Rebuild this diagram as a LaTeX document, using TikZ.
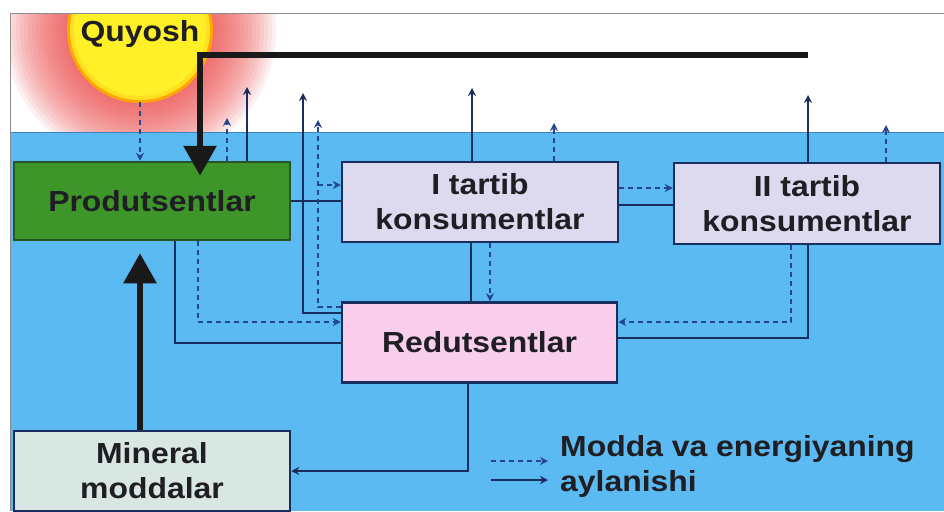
\documentclass[tikz,border=0pt]{standalone}
\usepackage{fontspec}
\setmainfont{Liberation Sans}[FakeStretch=1.1]
\usetikzlibrary{arrows.meta,calc}
\definecolor{water}{RGB}{92,186,242}
\definecolor{waterline}{RGB}{60,130,190}
\definecolor{prodc}{RGB}{62,150,42}
\definecolor{prodb}{RGB}{40,85,40}
\definecolor{consc}{RGB}{221,218,240}
\definecolor{redc}{RGB}{248,206,236}
\definecolor{minc}{RGB}{216,231,226}
\definecolor{navy}{RGB}{25,45,95}
\definecolor{dashc}{RGB}{35,70,140}
\definecolor{txt}{RGB}{30,30,35}
\definecolor{glow}{RGB}{240,70,70}
\definecolor{sunc}{RGB}{255,240,40}
\newcommand{\bxfont}{\fontsize{29}{35}\selectfont\bfseries}
\begin{document}
\begin{tikzpicture}[x=1pt,y=-1pt,
  box/.style={line width=2.5pt, inner sep=0pt, align=center, font=\bxfont, text=txt},
  sol/.style={draw=navy, line width=2.3pt},
  dsh/.style={draw=dashc, line width=2.2pt, dash pattern=on 5pt off 4pt},
  tip/.style={-{Stealth[length=8pt,width=8pt]}},
  heavy/.style={draw=black!90, line width=6pt},
  bigtip/.style={-{Triangle[length=30pt,width=32pt]}}
  ]
\useasboundingbox (0,0) rectangle (944,511);
\fill[white] (0,0) rectangle (944,511);
\begin{scope}
\clip (10,14) rectangle (944,132);
\foreach \r in {136,132,...,74} {\fill[glow, opacity=0.08] (140,30) circle (\r);}
\fill[orange!70!yellow] (140,30) circle (73);
\fill[sunc!85!orange] (140,30) circle (70);
\fill[sunc] (140,30) circle (66);
\end{scope}
\fill[water] (10,132) rectangle (944,511);
\draw[waterline, line width=1pt] (10,132) -- (944,132);
\draw[black!45, line width=1pt] (10,511) -- (10,14) -- (944,14);

\node[text=txt, font=\bxfont] (sunlbl) at (140,34) {Quyosh};

\node[box, draw=prodb, fill=prodc, minimum width=276pt, minimum height=78pt] (prod) at (152,201) {Produtsentlar};
\node[box, draw=navy, fill=consc, minimum width=276pt, minimum height=80pt] (c1) at (480,202) {I tartib\\konsumentlar};
\node[box, draw=navy, fill=consc, minimum width=266pt, minimum height=81pt] (c2) at (807,203.5) {II tartib\\konsumentlar};
\node[box, draw=navy, fill=redc, minimum width=275pt, minimum height=80pt] (red) at (479.5,342.5) {Redutsentlar};
\node[box, draw=navy, fill=minc, minimum width=276pt, minimum height=80pt] (min) at (152,471) {Mineral\\moddalar};

% solid connectors
\coordinate (pa) at (247,87);
\draw[sol,tip] (prod.north -| pa) -- (pa);
\coordinate (rb) at (303,93);
\coordinate (rbend) at (303,313);
\draw[sol,tip] (red.west |- rbend) -- (rbend) -- (rb);
\draw[sol] (prod.east) -- (prod.east -| c1.west);
\coordinate (h2) at (0,205);
\draw[sol] (c1.east |- h2) -- (c2.west |- h2);
\coordinate (c1t) at (472,88);
\draw[sol,tip] (c1.north -| c1t) -- (c1t);
\coordinate (c1b) at (471,0);
\draw[sol] (c1.south -| c1b) -- (red.north -| c1b);
\coordinate (c2t) at (808,95);
\draw[sol,tip] (c2.north -| c2t) -- (c2t);
\coordinate (c2b) at (808,338);
\draw[sol] (c2.south -| c2b) -- (c2b) -- (red.east |- c2b);
\coordinate (pb) at (175,343);
\draw[sol] (prod.south -| pb) -- (pb) -- (red.west |- pb);
\coordinate (rd) at (468,471);
\draw[sol,tip] (red.south -| rd) -- (rd) -- (min.east |- rd);

% dashed connectors
\coordinate (sun) at (140,102);
\draw[dsh,tip] (sun) -- (prod.north -| sun);
\coordinate (pd) at (227,118);
\draw[dsh,tip] (prod.north -| pd) -- (pd);
\coordinate (dv) at (318,307);
\coordinate (dvt) at (318,120);
\draw[dsh,tip] (red.west |- dv) -- (dv) -- (dvt);
\coordinate (dbr) at (318,185);
\draw[dsh,tip] (dbr) -- (c1.west |- dbr);
\coordinate (pdb) at (198,322);
\draw[dsh,tip] (prod.south -| pdb) -- (pdb) -- (red.west |- pdb);
\coordinate (c1d) at (490,0);
\draw[dsh,tip] (c1.south -| c1d) -- (red.north -| c1d);
\coordinate (c1dt) at (554,123);
\draw[dsh,tip] (c1.north -| c1dt) -- (c1dt);
\coordinate (h1) at (0,188);
\draw[dsh,tip] (c1.east |- h1) -- (c2.west |- h1);
\coordinate (c2dt) at (886,125);
\draw[dsh,tip] (c2.north -| c2dt) -- (c2dt);
\coordinate (c2d) at (791,322);
\draw[dsh,tip] (c2.south -| c2d) -- (c2d) -- (red.east |- c2d);

% heavy arrows
\coordinate (sstart) at (808,55);
\coordinate (sbend) at (200,55);
\draw[heavy,bigtip,shorten >=-15pt] (sstart) -- (sbend) -- (prod.north -| sbend);
\coordinate (mx) at (140,0);
\draw[heavy,bigtip,shorten >=12pt] (min.north -| mx) -- (prod.south -| mx);

% legend
\coordinate (l1a) at (491,461);
\coordinate (l1b) at (548,461);
\coordinate (l2a) at (491,480);
\coordinate (l2b) at (548,480);
\draw[dsh,tip] (l1a) -- (l1b);
\draw[sol,tip] (l2a) -- (l2b);
\node[anchor=west, align=left, font=\bxfont, text=txt, inner sep=0pt] (leg) at (560,466) {Modda va energiyaning\\aylanishi};
\end{tikzpicture}
\end{document}
